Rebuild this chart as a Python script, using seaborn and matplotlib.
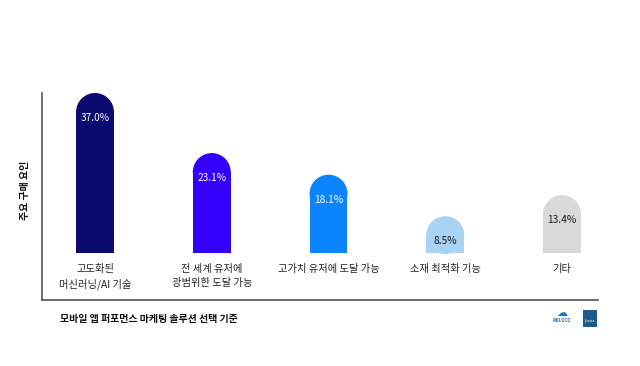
import matplotlib
matplotlib.use("Agg")
import matplotlib.pyplot as plt
import seaborn as sns
import pandas as pd
from matplotlib.patches import Ellipse, Rectangle

# ── Data ──────────────────────────────────────────────────────────────────────
categories = ["고도화된\n머신러닝/AI 기술", "전 세계 유저에\n광범위한 도달 가능",
              "고가치 유저에 도달 가능", "소재 최적화 기능", "기타"]
values = [37.0, 23.1, 18.1, 8.5, 13.4]
value_labels = ["37.0%", "23.1%", "18.1%", "8.5%", "13.4%"]
colors = ["#0b0a6e", "#3300fb", "#0b84fe", "#a9d3f5", "#d9d9d9"]
label_colors = ["white", "white", "white", "#1a1a1a", "#1a1a1a"]

sns.set_theme(style="white")
plt.rcParams["font.family"] = ["Noto Sans CJK KR", "DejaVu Sans"]

df = pd.DataFrame({"cat": categories, "val": values})

fig = plt.figure(figsize=(6.4, 3.66), dpi=100)
# axes box in pixels: x 42..598, y 93..300 (from top)
W, H = 640, 366
ax = fig.add_axes([42 / W, (H - 300) / H, (598 - 42) / W, (300 - 93) / H])

bar_w = 0.325
sns.barplot(data=df, x="cat", y="val", hue="cat", palette=colors, legend=False,
            width=bar_w, ax=ax, saturation=1)

ax.set_xlim(-0.454, 4.308)
ax.set_ylim(-10.9, 37.0)

# rounded caps: radius = half bar width in pixels
px_per_unit_y = (300 - 93) / (37.0 + 10.9)
r_y = 19 / px_per_unit_y
for i, p in enumerate(ax.patches):
    x0, w, h = p.get_x(), p.get_width(), p.get_height()
    p.set_height(h - r_y)
    p.set_linewidth(0)
    ax.add_patch(Ellipse((x0 + w / 2, h - r_y), w, 2 * r_y,
                         facecolor=colors[i], edgecolor="none"))
    ax.text(x0 + w / 2, h - 5.8, value_labels[i], ha="center", va="center",
            fontsize=7.3, color=label_colors[i])

# category labels under bars
for i, c in enumerate(categories):
    ax.text(i, -2.6, c, ha="center", va="top", fontsize=7.4, color="#222222",
            linespacing=1.5)

ax.set_xticks([])
ax.set_yticks([])
ax.set_xlabel("")
ax.set_ylabel("")
sns.despine(ax=ax, top=True, right=True)
ax.spines["left"].set_color("#555555")
ax.spines["bottom"].set_color("#555555")
ax.spines["left"].set_linewidth(1.2)
ax.spines["bottom"].set_linewidth(1.2)

fig.text(25 / W, 1 - 190 / H, "주요 구매 요인", rotation=90, ha="center", va="center",
         fontsize=7.2, fontweight="bold", color="#111111")
fig.text(60 / W, 1 - 319 / H, "모바일 앱 퍼포먼스 마케팅 솔루션 선택 기준", ha="left",
         va="center", fontsize=7.2, fontweight="bold", color="#111111")

# small logos
fig.text(562 / W, 1 - 321 / H, "MOLOCO", ha="center", va="center", fontsize=3,
         fontweight="bold", color="#2a6db5")
fig.text(562 / W, 1 - 313 / H, "☁", ha="center", va="center", fontsize=8,
         color="#2a6db5", family=["DejaVu Sans"])
fig.patches.append(Rectangle((583 / W, 1 - 327 / H), 14 / W, 17 / H,
                             transform=fig.transFigure, facecolor="#1d5c8a",
                             edgecolor="none"))
fig.text(590 / W, 1 - 321 / H, "Ipsos", ha="center", va="center", fontsize=3,
         color="white")

fig.savefig("out.png", dpi=100, facecolor="white")
